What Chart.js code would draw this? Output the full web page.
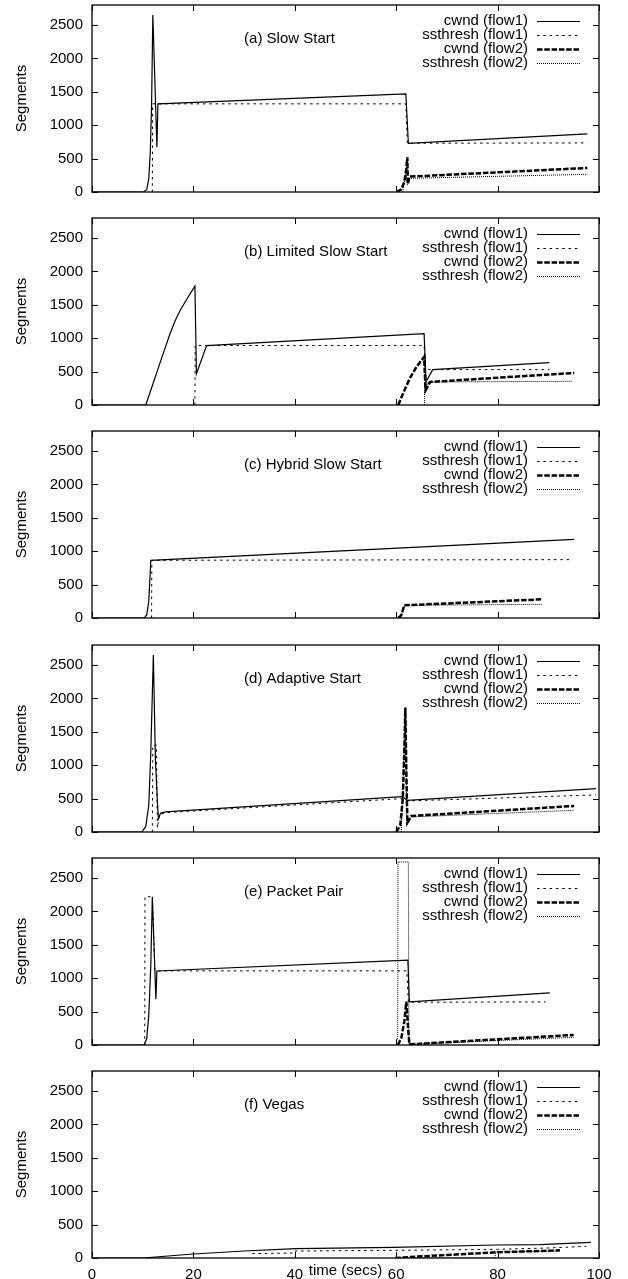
<!DOCTYPE html>
<html>
<head>
<meta charset="utf-8">
<script src="https://cdn.jsdelivr.net/npm/chart.js@4.4.1/dist/chart.umd.min.js"></script>
<style>
html, body { margin: 0; padding: 0; background: #fff; }
#wrap { position: relative; width: 628px; height: 1279px; }
canvas { position: absolute; left: 0; }
</style>
</head>
<body>
<div id="wrap"></div>
<script>
const panelTitles = ['(a) Slow Start', '(b) Limited Slow Start', '(c) Hybrid Slow Start',
  '(d) Adaptive Start', '(e) Packet Pair', '(f) Vegas'];
const seriesNames = ['cwnd (flow1)', 'ssthresh (flow1)', 'cwnd (flow2)', 'ssthresh (flow2)'];
const xTicks = [0, 20, 40, 60, 80, 100];
const yTicks = [0, 500, 1000, 1500, 2000, 2500];

// [time (secs), segments]
const aCwnd1 = [[0,0],[10.2,0],[10.8,40],[11.2,200],[11.5,600],[11.75,1300],[12.0,2650],[12.8,670],[13.0,1320],[61.9,1470],[62.4,730],[97.7,870]];
const aSsth1 = [[11.9,0],[11.95,1320],[61.9,1320],[62.2,730],[97.7,735]];
const aCwnd2 = [[60.1,0],[61.0,40],[61.6,150],[62.0,350],[62.2,520],[62.3,120],[62.6,230],[97.7,360]];
const aSsth2 = [[61.3,0],[61.9,280],[62.2,100],[62.6,205],[97.7,265]];

const bCwnd1 = [[0,0],[10.6,0],[12.0,310],[13.5,650],[15.4,1070],[16.4,1260],[17.4,1420],[18.9,1610],[20.3,1780],[20.6,470],[22.6,890],[65.5,1070],[65.9,350],[67.2,530],[90.2,635]];
const bSsth1 = [[20.3,0],[20.35,890],[65.5,890],[65.8,530],[90.2,530]];
const bCwnd2 = [[60.4,0],[61.5,200],[62.7,400],[64.0,570],[65.5,720],[65.8,220],[66.7,345],[95.1,480]];
const bSsth2 = [[65.6,0],[65.65,700],[65.9,250],[66.3,345],[94.8,355]];

const cCwnd1 = [[0,0],[10.3,0],[10.8,50],[11.2,250],[11.6,864],[95.1,1178]];
const cSsth1 = [[11.75,0],[11.8,864],[94.5,874]];
const cCwnd2 = [[60.4,0],[61.0,40],[61.6,190],[88.8,280]];
const cSsth2 = [[60.8,0],[61.7,190],[88.8,205]];

const dCwnd1 = [[0,0],[9.8,0],[10.6,80],[11.2,400],[11.6,1200],[12.1,2650],[12.5,1100],[12.9,450],[13.1,200],[13.5,280],[14.5,300],[61.2,530],[62.2,475],[99.4,650]];
const dSsth1 = [[11.9,0],[12.0,1300],[12.7,1300],[12.9,60],[13.3,260],[14.5,290],[61.2,500],[62.2,465],[99.4,555]];
const dCwnd2 = [[60.0,0],[60.8,100],[61.3,500],[61.6,1200],[61.8,1865],[62.0,900],[62.2,140],[63.0,240],[95.1,390]];
const dSsth2 = [[61.0,0],[61.4,900],[61.7,1500],[61.9,1600],[62.1,100],[62.6,200],[63.0,225],[95.1,325]];

const eCwnd1 = [[0,0],[10.3,0],[10.8,100],[11.2,450],[11.6,1200],[11.9,2220],[12.6,685],[12.8,1108],[62.3,1272],[62.6,645],[90.3,780]];
const eSsth1 = [[10.4,0],[10.45,2220],[11.9,2220],[12.4,1110],[62.1,1110],[62.4,640],[89.5,645]];
const eCwnd2 = [[60.3,0],[61.0,100],[61.6,350],[62.0,650],[62.3,300],[62.6,10],[95.0,150]];
const eSsth2 = [[60.0,80],[60.3,80],[60.35,2740],[62.4,2740],[62.5,10],[95.0,115]];

const fCwnd1 = [[0,0],[10.1,0],[15,30],[20,60],[30,105],[40.2,140],[59.5,160],[79.7,195],[88.4,200],[98.4,235]];
const fSsth1 = [[31.6,65],[40.0,75],[40.1,105],[60,115],[80,130],[90,150],[97.5,175]];
const fCwnd2 = [[59.8,0],[65,25],[70,45],[79.7,85],[92.3,115]];
const fSsth2 = [[59.8,0],[79.5,0],[79.6,90],[92.3,105]];

const panels = [
  [aCwnd1, aSsth1, aCwnd2, aSsth2],
  [bCwnd1, bSsth1, bCwnd2, bSsth2],
  [cCwnd1, cSsth1, cCwnd2, cSsth2],
  [dCwnd1, dSsth1, dCwnd2, dSsth2],
  [eCwnd1, eSsth1, eCwnd2, eSsth2],
  [fCwnd1, fSsth1, fCwnd2, fSsth2]
];

const lineStyles = [
  { borderWidth: 1.2, borderDash: [] },
  { borderWidth: 1, borderDash: [2.5, 3.8] },
  { borderWidth: 2.5, borderDash: [5.5, 1.8] },
  { borderWidth: 1, borderDash: [1, 1] }
];

const FONT = '15px "Liberation Sans", Arial, sans-serif';
Chart.defaults.font.family = '"Liberation Sans", Arial, sans-serif';
Chart.defaults.font.size = 15;
Chart.defaults.color = '#000';

// gnuplot-like frame: border, inward ticks, key, panel label
const frame = {
  id: 'gnuplotFrame',
  afterDatasetsDraw(chart, args, opts) {
    const { ctx, chartArea: a, scales: { x, y } } = chart;
    ctx.save();
    ctx.strokeStyle = '#000';
    ctx.fillStyle = '#000';
    ctx.setLineDash([]);
    ctx.lineWidth = 1.3;
    ctx.strokeRect(a.left, a.top, a.right - a.left, a.bottom - a.top);

    ctx.lineWidth = 1;
    ctx.beginPath();
    yTicks.forEach(v => {
      const py = Math.round(y.getPixelForValue(v)) + 0.5;
      ctx.moveTo(a.left, py); ctx.lineTo(a.left + 6, py);
      ctx.moveTo(a.right, py); ctx.lineTo(a.right - 6, py);
    });
    xTicks.forEach(v => {
      const px = Math.round(x.getPixelForValue(v)) + 0.5;
      ctx.moveTo(px, a.bottom); ctx.lineTo(px, a.bottom - 6);
      ctx.moveTo(px, a.top); ctx.lineTo(px, a.top + 6);
    });
    ctx.stroke();

    ctx.font = FONT;
    ctx.textBaseline = 'middle';
    ctx.textAlign = 'left';
    ctx.fillText(opts.title, x.getPixelForValue(30), y.getPixelForValue(2290));

    // key
    chart.data.datasets.forEach((ds, i) => {
      const cy = a.top + 16 + 14 * i;
      ctx.textAlign = 'right';
      ctx.fillText(ds.label, a.right - 71, cy);
      ctx.save();
      ctx.lineWidth = ds.borderWidth;
      ctx.setLineDash(ds.borderDash);
      ctx.beginPath();
      ctx.moveTo(a.right - 62, cy + 0.5);
      ctx.lineTo(a.right - 19, cy + 0.5);
      ctx.stroke();
      ctx.restore();
    });

    ctx.save();
    ctx.translate(22, (a.top + a.bottom) / 2);
    ctx.rotate(-Math.PI / 2);
    ctx.textAlign = 'center';
    ctx.fillText('Segments', 0, 0);
    ctx.restore();

    if (opts.xTitle) {
      ctx.textAlign = 'center';
      ctx.fillText(opts.xTitle, x.getPixelForValue(50), a.bottom + 13);
    }
    ctx.restore();
  }
};

const wrap = document.getElementById('wrap');
panels.forEach((series, p) => {
  const isLast = p === panels.length - 1;
  const cv = document.createElement('canvas');
  cv.width = 628;
  cv.height = 213;
  cv.style.top = Math.round(p * 213.2) + 'px';
  wrap.appendChild(cv);

  new Chart(cv, {
    type: 'line',
    data: {
      datasets: series.map((pts, k) => ({
        label: seriesNames[k],
        data: pts.map(pt => ({ x: pt[0], y: pt[1] })),
        borderColor: '#000',
        borderWidth: lineStyles[k].borderWidth,
        borderDash: lineStyles[k].borderDash,
        pointRadius: 0,
        fill: false,
        tension: 0
      }))
    },
    options: {
      responsive: false,
      animation: false,
      events: [],
      layout: { padding: { top: 5, right: 29, left: 0, bottom: 0 } },
      plugins: {
        legend: { display: false },
        tooltip: { enabled: false },
        gnuplotFrame: { title: panelTitles[p], xTitle: isLast ? 'time (secs)' : '' }
      },
      scales: {
        x: {
          type: 'linear', min: 0, max: 100,
          afterBuildTicks: s => { s.ticks = xTicks.map(v => ({ value: v })); },
          afterFit: s => { s.height = 21; s.paddingLeft = 0; s.paddingRight = 0; },
          grid: { display: false, drawTicks: false },
          border: { display: false },
          ticks: { display: isLast, padding: 8, maxRotation: 0, autoSkip: false, callback: v => String(v) }
        },
        y: {
          type: 'linear', min: 0, max: 2800,
          afterBuildTicks: s => { s.ticks = yTicks.map(v => ({ value: v })); },
          afterFit: s => { s.width = 92; s.paddingTop = 0; s.paddingBottom = 0; },
          grid: { display: false, drawTicks: false },
          border: { display: false },
          ticks: { padding: 9, autoSkip: false, callback: v => String(v) }
        }
      }
    },
    plugins: [frame]
  });
});
</script>
</body>
</html>
